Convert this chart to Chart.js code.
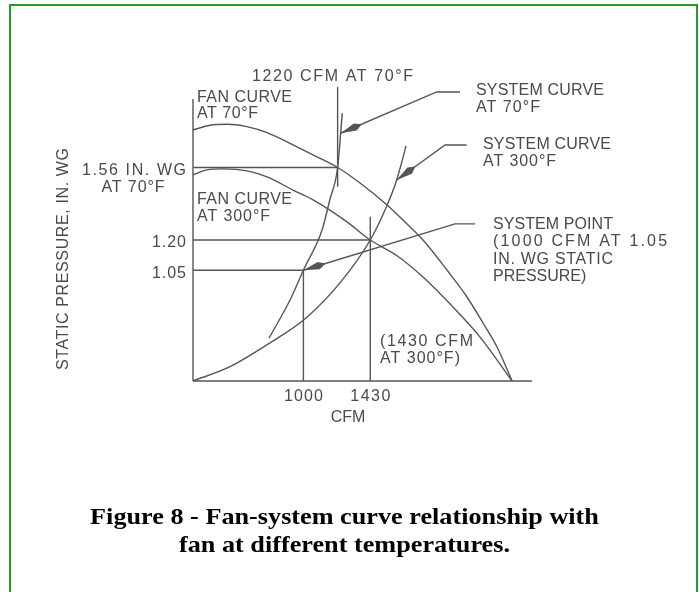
<!DOCTYPE html>
<html>
<head>
<meta charset="utf-8">
<script src="https://cdn.jsdelivr.net/npm/chart.js@4.4.1/dist/chart.umd.min.js"></script>
<style>
  html, body { margin: 0; padding: 0; background: #fff; }
  body { width: 699px; height: 592px; overflow: hidden; position: relative; }
  #frame { position: absolute; left: 9px; top: 4px; width: 689px; height: 640px; border: 2px solid #22a022; box-sizing: border-box; }
  #chartBox { position: absolute; left: 0; top: 0; width: 699px; height: 592px; }
  #caption { position: absolute; left: 0; width: 689px; top: 503px; text-align: center;
             font: bold 23px/28px "Liberation Serif", "Times New Roman", serif; color: #000;
             transform: scaleX(1.14); transform-origin: 344.5px 0; }
</style>
</head>
<body>
<div id="frame"></div>
<div id="chartBox"><canvas id="fanChart" width="699" height="592"></canvas></div>
<div id="caption">Figure 8 - Fan-system curve relationship with<br>fan at different temperatures.</div>
<script>
// x = CFM, y = static pressure (in. WG)
const cfmTicks = [1000, 1430];
const pressureTicks = [1.05, 1.20, 1.56];

const fan70Cfm = [290, 399, 509, 637, 766, 914, 1062, 1220, 1364, 1538, 1640, 1769, 1923, 2052, 2155, 2245, 2342];
const fan70Sp  = [1.746, 1.770, 1.775, 1.763, 1.733, 1.680, 1.622, 1.56, 1.483, 1.374, 1.299, 1.200, 1.051, 0.917, 0.788, 0.669, 0.50];

const fan300Cfm = [290, 380, 483, 637, 766, 933, 1062, 1280, 1430, 1602, 1769, 1962, 2136, 2342];
const fan300Sp  = [1.523, 1.548, 1.553, 1.543, 1.513, 1.448, 1.399, 1.290, 1.20, 1.122, 1.016, 0.867, 0.718, 0.50];

const sys70Cfm = [779, 914, 1000, 1120, 1170, 1220, 1250];
const sys70Sp  = [0.713, 0.902, 1.05, 1.25, 1.40, 1.56, 1.83];

const sys300Cfm = [290, 528, 785, 1017, 1235, 1430, 1536, 1600, 1660];
const sys300Sp  = [0.50, 0.571, 0.689, 0.813, 0.987, 1.20, 1.369, 1.498, 1.667];

// operating point guide lines
const hLineSp  = [1.56, 1.20, 1.05];
const hLineEnd = [1220, 1430, 1000];
const vLineCfm  = [1220, 1430, 1000];
const vLineLow  = [1.465, 0.50, 0.50];
const vLineHigh = [1.961, 1.316, 1.05];

// callout leaders: [cfm, sp] from label end to arrow tip
const leaderSys70  = [[2007, 1.935], [1857, 1.935], [1239, 1.730]];
const leaderSys300 = [[2050, 1.672], [1911, 1.672], [1600, 1.498]];
const leaderPoint  = [[2104, 1.280], [1975, 1.280], [1000, 1.05]];
const leaders = [leaderSys70, leaderSys300, leaderPoint];

const X_MIN = 290, X_MAX = 2470, Y_MIN = 0.50, Y_MAX = 1.90;
const INK = "#555555";
const TXT = "#4a4a4a";
const FONT = '16px "Liberation Sans", Arial, sans-serif';

// free text: [text, x px, y px, align, width px]
const notes = [
  ["1220 CFM AT 70°F", 252, 77, "left", 161],
  ["FAN CURVE", 197, 97.5, "left", 95],
  ["AT 70°F", 197, 114, "left", 61],
  ["SYSTEM CURVE", 476, 91, "left", 128],
  ["AT 70°F", 476, 108, "left", 64],
  ["SYSTEM CURVE", 483, 144.5, "left", 128],
  ["AT 300°F", 483, 162, "left", 73],
  ["FAN CURVE", 197, 200, "left", 95],
  ["AT 300°F", 197, 217, "left", 73],
  ["SYSTEM POINT", 493, 224.5, "left", 120],
  ["(1000 CFM AT 1.05", 493, 242, "left", 174],
  ["IN. WG STATIC", 493, 260, "left", 120],
  ["PRESSURE)", 493, 277, "left", 93],
  ["(1430 CFM", 380, 341.5, "left", 93],
  ["AT 300°F)", 380, 359, "left", 80],
  ["AT 70°F", 133, 188, "center", 63],
  ["CFM", 348, 418, "center", 31]
];
const yTickText = ["1.05", "1.20", "1.56 IN. WG"];
const yTickWidth = [34, 34, 104];
const xTickWidth = [39, 40];

function pts(xs, ys) {
  return xs.map((x, i) => ({ x: x, y: ys[i] }));
}

function lineSet(data, smooth) {
  return {
    data: data,
    borderColor: INK,
    borderWidth: 1.4,
    pointRadius: 0,
    fill: false,
    clip: false,
    tension: 0,
    cubicInterpolationMode: smooth ? "monotone" : "default"
  };
}

const datasets = [
  lineSet([{ x: X_MIN, y: Y_MIN }, { x: X_MAX, y: Y_MIN }], false),
  lineSet([{ x: X_MIN, y: Y_MIN }, { x: X_MIN, y: Y_MAX }], false),
  lineSet(pts(fan70Cfm, fan70Sp), true),
  lineSet(pts(fan300Cfm, fan300Sp), true),
  lineSet(pts(sys70Cfm, sys70Sp), true),
  lineSet(pts(sys300Cfm, sys300Sp), true)
];
hLineSp.forEach((sp, i) => datasets.push(lineSet([{ x: X_MIN, y: sp }, { x: hLineEnd[i], y: sp }], false)));
vLineCfm.forEach((c, i) => datasets.push(lineSet([{ x: c, y: vLineLow[i] }, { x: c, y: vLineHigh[i] }], false)));
leaders.forEach(l => datasets.push(lineSet(l.map(p => ({ x: p[0], y: p[1] })), false)));

// stretch a label to the width it has in the drawing (never squeeze it)
function spacedText(ctx, text, x, y, align, w) {
  ctx.letterSpacing = "0px";
  const m = ctx.measureText(text).width;
  const ls = text.length > 1 ? Math.max(0, (w - m) / (text.length - 1)) : 0;
  const width = m + ls * (text.length - 1);
  let left = x;
  if (align === "right") left = x - width;
  if (align === "center") left = x - width / 2;
  ctx.letterSpacing = ls.toFixed(2) + "px";
  ctx.textAlign = "left";
  ctx.fillText(text, left, y);
}

const sketchPlugin = {
  id: "sketch",
  afterDatasetsDraw(chart) {
    const ctx = chart.ctx;
    const xs = chart.scales.x, ys = chart.scales.y;

    // arrow heads
    ctx.save();
    ctx.fillStyle = INK;
    leaders.forEach(l => {
      const n = l.length;
      const tx = xs.getPixelForValue(l[n - 1][0]), ty = ys.getPixelForValue(l[n - 1][1]);
      const bx = xs.getPixelForValue(l[n - 2][0]), by = ys.getPixelForValue(l[n - 2][1]);
      ctx.save();
      ctx.translate(tx, ty);
      ctx.rotate(Math.atan2(by - ty, bx - tx));
      ctx.beginPath();
      ctx.moveTo(0, 0);
      ctx.lineTo(16, -3.8);
      ctx.lineTo(23, 0);
      ctx.lineTo(16, 3.8);
      ctx.closePath();
      ctx.fill();
      ctx.restore();
    });
    ctx.restore();

    ctx.save();
    ctx.font = FONT;
    ctx.fillStyle = TXT;
    ctx.textBaseline = "middle";
    notes.forEach(n => spacedText(ctx, n[0], n[1], n[2], n[3], n[4]));
    pressureTicks.forEach((v, i) => spacedText(ctx, yTickText[i], 186, ys.getPixelForValue(v) + 3, "right", yTickWidth[i]));
    cfmTicks.forEach((v, i) => spacedText(ctx, String(v), xs.getPixelForValue(v), 397, "center", xTickWidth[i]));

    // axis title
    ctx.translate(64, 259);
    ctx.rotate(-Math.PI / 2);
    spacedText(ctx, "STATIC PRESSURE, IN. WG", 0, 0, "center", 222);
    ctx.restore();
  }
};

new Chart(document.getElementById("fanChart"), {
  type: "line",
  data: { datasets: datasets },
  options: {
    responsive: false,
    animation: false,
    events: [],
    layout: { padding: { left: 193, right: 699 - 532, top: 99, bottom: 592 - 381 } },
    scales: {
      x: { type: "linear", min: X_MIN, max: X_MAX, display: false },
      y: { type: "linear", min: Y_MIN, max: Y_MAX, display: false }
    },
    plugins: { legend: { display: false }, tooltip: { enabled: false } }
  },
  plugins: [sketchPlugin]
});
</script>
</body>
</html>
